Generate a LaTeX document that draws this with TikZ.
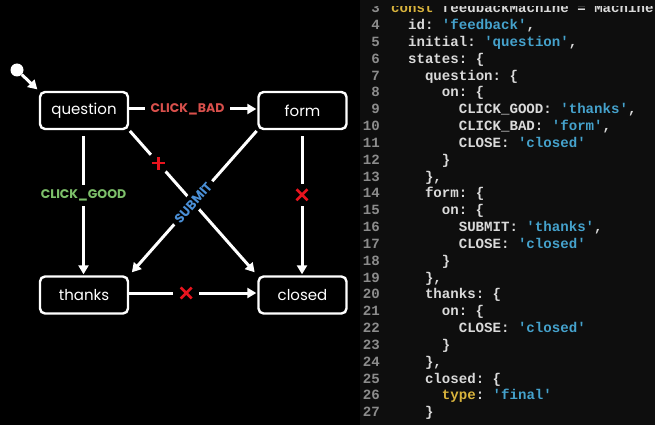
\documentclass[tikz,border=0pt]{standalone}
\usepackage{fontspec}
\setmainfont{Poppins}
\setmonofont{Liberation Mono}
\usetikzlibrary{arrows.meta}
\definecolor{codebg}{HTML}{0E0E0E}
\definecolor{badred}{HTML}{D9504C}
\definecolor{goodgreen}{HTML}{7DC06A}
\definecolor{submitblue}{HTML}{4A8FD6}
\definecolor{crossred}{HTML}{E8141E}
\definecolor{codetext}{HTML}{DADADA}
\definecolor{codestr}{HTML}{45A2CC}
\definecolor{codekw}{HTML}{D8B33C}
\definecolor{lineno}{HTML}{8C8C8C}
\newcommand\qs[1]{\textcolor{codestr}{#1}}
\newcommand\kw[1]{\textcolor{codekw}{#1}}
\newcommand\codeln[3]{%
  \node[lnum] (n#1) at (380,{29.6+(#1-4)*16.83}) {#1};
  \node[ctext] (c#1) at ({391+#2*8.45},{29.6+(#1-4)*16.83}) {#3};}
\begin{document}
\begin{tikzpicture}[x=1pt,y=-1pt,
  state/.style={draw=white, line width=2.4pt, rounded corners=5pt, fill=black,
    text=white, minimum width=88pt, minimum height=37pt, inner sep=0pt,
    font=\fontsize{15}{18}\selectfont},
  trans/.style={draw=white, line width=3pt, -{Triangle[length=9pt,width=10pt]}},
  evlabel/.style={fill=black, font=\fontsize{12.5}{14}\selectfont\bfseries,
    inner xsep=6pt, inner ysep=5pt},
  markbox/.style={fill=black, minimum size=22pt, inner sep=0pt},
  crossline/.style={draw=crossred, line width=2.6pt},
  lnum/.style={anchor=base east, inner sep=0pt, text=lineno,
    font=\ttfamily\bfseries\fontsize{14.1}{16}\selectfont},
  ctext/.style={anchor=base west, inner sep=0pt, text=codetext,
    font=\ttfamily\bfseries\fontsize{14.1}{16}\selectfont},
]
\clip (0,0) rectangle (655,425);
\fill[black] (0,0) rectangle (655,425);
\fill[codebg] (360,0) rectangle (655,425);

% states
\node[state] (q) at (84,110.5) {question};
\node[state] (f) at (302.5,110.5) {form};
\node[state] (t) at (84,295) {thanks};
\node[state] (c) at (302.5,295) {closed};

% initial
\node[circle, fill=white, minimum size=13pt, inner sep=0pt] (init) at (17,70) {};
\draw[trans, shorten >=2pt] (init) -- (q.north west);

% transitions
\draw[trans, shorten <=1pt, shorten >=4pt] (q.south east) -- (c.north west)
  node[pos=0.227, markbox, rotate=45] (m1) {};
\draw[crossline] (m1.center) +(-6.5pt,0) -- +(6.5pt,0)
  (m1.center) +(0,-6.5pt) -- +(0,6.5pt);

\draw[trans, shorten <=1pt, shorten >=4pt] (f.south west) -- (t.north east)
  node[pos=0.5, evlabel, sloped, text=submitblue, inner xsep=4pt, inner ysep=4pt,
    font=\fontsize{13}{14}\selectfont\bfseries] (lsub) {SUBMIT};

\draw[trans, shorten >=1pt] ([yshift=1.5pt]q.east) -- ([yshift=1.5pt]f.west)
  node[pos=0.455, evlabel, text=badred] (lbad) {CLICK\_BAD};

\draw[trans, shorten <=6pt, shorten >=1pt] ([xshift=-0.5pt]q.south) -- ([xshift=-0.5pt]t.north)
  node[pos=0.45, evlabel, text=goodgreen, inner xsep=2pt] (lgood) {CLICK\_GOOD};

\draw[trans, shorten <=6pt, shorten >=1pt] ([xshift=-0.5pt]f.south) -- ([xshift=-0.5pt]c.north)
  node[pos=0.445, markbox] (m2) {};
\draw[crossline] (m2.center) +(-5.5pt,-5.5pt) -- +(5.5pt,5.5pt)
  (m2.center) +(-5.5pt,5.5pt) -- +(5.5pt,-5.5pt);

\draw[trans, shorten >=1pt] ([yshift=2pt]t.east) -- ([yshift=2pt]c.west)
  node[pos=0.445, markbox, minimum size=26pt] (m3) {};
\draw[crossline] (m3.center) +(-5.5pt,-5.5pt) -- +(5.5pt,5.5pt)
  (m3.center) +(-5.5pt,5.5pt) -- +(5.5pt,-5.5pt);

% code
\codeln{3}{0}{\kw{const} feedbackMachine = Machine(\{}
\fill[codebg] (360,0) rectangle (655,6.5);
\codeln{4}{2}{id: \qs{'feedback'},}
\codeln{5}{2}{initial: \qs{'question'},}
\codeln{6}{2}{states: \{}
\codeln{7}{4}{question: \{}
\codeln{8}{6}{on: \{}
\codeln{9}{8}{CLICK\_GOOD: \qs{'thanks'},}
\codeln{10}{8}{CLICK\_BAD: \qs{'form'},}
\codeln{11}{8}{CLOSE: \qs{'closed'}}
\codeln{12}{6}{\}}
\codeln{13}{4}{\},}
\codeln{14}{4}{form: \{}
\codeln{15}{6}{on: \{}
\codeln{16}{8}{SUBMIT: \qs{'thanks'},}
\codeln{17}{8}{CLOSE: \qs{'closed'}}
\codeln{18}{6}{\}}
\codeln{19}{4}{\},}
\codeln{20}{4}{thanks: \{}
\codeln{21}{6}{on: \{}
\codeln{22}{8}{CLOSE: \qs{'closed'}}
\codeln{23}{6}{\}}
\codeln{24}{4}{\},}
\codeln{25}{4}{closed: \{}
\codeln{26}{6}{\kw{type}: \qs{'final'}}
\codeln{27}{4}{\}}
\end{tikzpicture}
\end{document}
